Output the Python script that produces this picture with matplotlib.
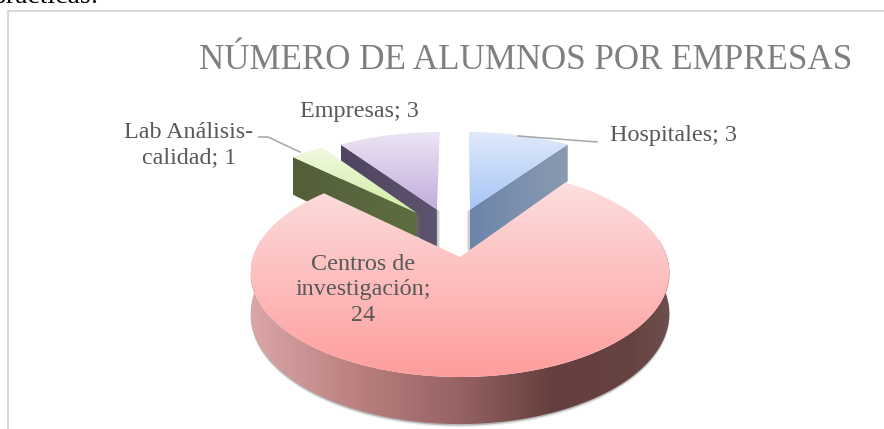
import numpy as np
import matplotlib
matplotlib.use('Agg')
import matplotlib.pyplot as plt
from matplotlib.colors import LinearSegmentedColormap
from matplotlib.patches import Polygon

# datos del grafico
categorias = ['Hospitales', 'Centros de investigación', 'Lab Análisis-calidad', 'Empresas']
valores = [3, 24, 1, 3]
titulo = 'NÚMERO DE ALUMNOS POR EMPRESAS'
etiquetas = ['Hospitales; 3', 'Centros de\ninvestigación;\n24', 'Lab Análisis-\ncalidad; 1', 'Empresas; 3']

# separacion de cada porcion (x, z) en el plano del pastel
sep_x = [0.052, 0, -0.222, -0.12]
sep_z = [0.50, 0, 0.46, 0.50]

# colores: superficie arriba/abajo
sup_col = [['#e0eafa', '#a5c4f6'], ['#fcdede', '#ff9d9d'], ['#f1f9e2', '#cfeea0'], ['#ece5f4', '#c3acdc']]
par_col = [['#6c84aa', '#8b9ab1'], None, ['#525f38', '#5f6d42'], ['#4f4560', '#5f5470']]
rojo_pared = [(0, '#dba6a6'), (0.25, '#bb8080'), (0.5, '#966262'), (0.72, '#653f3d'), (0.9, '#654240'), (1, '#6d4f4c')]

# camara
CX, CY = 460, 257
RX, RY = 207, 102
P = 0.15
ALTO = 40
ALTO_SEP = 44


def proy(x, z, h=0):
    s = 1 / (1 + P * z)
    return CX + RX * x * s, CY - RY * z * s + h * s


def grad(ax, poli, cols, vertical=True):
    xs, ys = poli[:, 0], poli[:, 1]
    cm = LinearSegmentedColormap.from_list('g', cols)
    g = np.linspace(0, 1, 256)
    g = g.reshape(-1, 1) if vertical else g.reshape(1, -1)
    im = ax.imshow(g, cmap=cm, aspect='auto', zorder=ax.zz, interpolation='bilinear',
                   extent=(xs.min(), xs.max(), ys.max(), ys.min()))
    im.set_clip_path(Polygon(poli, closed=True, transform=ax.transData))
    ax.zz += 1


def sombra(ax, poli, dx, dy, alfa=0.35):
    ax.add_patch(Polygon(poli + [dx, dy], closed=True, fc='#777777', ec='none', alpha=alfa, zorder=ax.zz))
    ax.zz += 1


fig = plt.figure(figsize=(8.84, 4.29), dpi=100)
ax = fig.add_axes([0, 0, 1, 1])
ax.zz = 3
plt.rcParams['font.family'] = ['Liberation Serif', 'DejaVu Serif']

# angulos de cada porcion, desde arriba y en sentido horario
fin = np.cumsum(valores) / sum(valores) * 2 * np.pi
ini = np.r_[0, fin[:-1]]

# primero las separadas (atras), el rojo al final
for i in [0, 3, 2]:
    t = np.linspace(ini[i], fin[i], 40)
    ax_, az_ = sep_x[i], sep_z[i]
    ox, oz = ax_ + np.sin(t), az_ + np.cos(t)
    top = np.array([proy(ax_, az_)] + [proy(a, b) for a, b in zip(ox, oz)])
    # pared recta visible
    k = -1 if i == 0 else 0
    pared = np.array([proy(ax_, az_), proy(ox[k], oz[k]), proy(ox[k], oz[k], ALTO_SEP), proy(ax_, az_, ALTO_SEP)])
    sombra(ax, pared, -2.5 if i == 0 else 2.5, 1.5)
    grad(ax, pared, par_col[i], vertical=False)
    grad(ax, top, sup_col[i])

# porcion grande
t = np.linspace(ini[1], fin[1], 240)
ox, oz = np.sin(t), np.cos(t)
frente = (t > np.radians(80)) & (t < np.radians(280))
arr = np.array([proy(a, b) for a, b in zip(ox[frente], oz[frente])])
aba = np.array([proy(a, b, ALTO) for a, b in zip(ox[frente], oz[frente])])
pared = np.vstack([arr, aba[::-1]])
sombra(ax, pared, 0, 1.5, 0.45)
sombra(ax, pared, 0.0, 3, 0.15)
grad(ax, pared, rojo_pared, vertical=False)
top = np.array([proy(0, 0)] + [proy(a, b) for a, b in zip(ox, oz)])
grad(ax, top, sup_col[1])

# marco del grafico
ax.plot([8, 8], [429, 11], color='#d9d9d9', lw=1.5, zorder=2)
ax.plot([8, 884], [11, 11], color='#d9d9d9', lw=1.5, zorder=2)

# lineas guia
ax.plot([259, 268, 300], [137, 137, 152], color='#a6a6a6', lw=1.1, zorder=20)
ax.plot([518, 597], [136, 142], color='#a6a6a6', lw=1.1, zorder=20)

# textos
ax.text(-7, 3, 'prácticas:', fontsize=20, color='black', ha='left', va='baseline', family='Liberation Serif')
ax.text(526, 69, titulo, fontsize=25.2, color='#7f7f7f', ha='center', va='baseline', zorder=30)
col = '#595959'
ax.text(673, 136, etiquetas[0], fontsize=17.4, color=col, ha='center', va='center', zorder=30)
ax.text(363, 290, etiquetas[1], fontsize=17.4, color=col, ha='center', va='center', linespacing=1.3, zorder=30)
ax.text(189, 145, etiquetas[2], fontsize=17.4, color=col, ha='center', va='center', linespacing=1.3, zorder=30)
ax.text(359, 112, etiquetas[3], fontsize=17.4, color=col, ha='center', va='center', zorder=30)

ax.set_xlim(0, 884)
ax.set_ylim(429, 0)
ax.axis('off')
fig.savefig('out.png', dpi=100)
